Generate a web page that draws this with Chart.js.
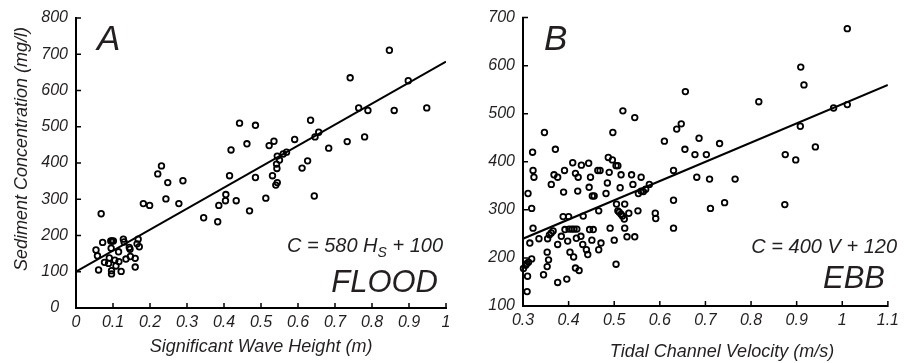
<!DOCTYPE html>
<html>
<head>
<meta charset="utf-8">
<title>Sediment concentration - flood / ebb</title>
<script src="https://cdn.jsdelivr.net/npm/chart.js@4.4.0/dist/chart.umd.min.js"></script>
<style>
  body { margin: 0; background: #fff; }
  #wrap { position: relative; width: 904px; height: 363px; }
  .panel { position: absolute; top: 0; height: 363px; }
</style>
</head>
<body>
<div id="wrap">
  <div class="panel" style="left:0;width:460px"><canvas id="floodChart"></canvas></div>
  <div class="panel" style="left:460px;width:444px"><canvas id="ebbChart"></canvas></div>
</div>
<script>
// Panel A - flood: significant wave height (m) vs sediment concentration (mg/l)
const floodH = [
  0.847, 0.741, 0.898, 0.764, 0.789, 0.860, 0.948, 0.442, 0.485, 0.634,
  0.462, 0.522, 0.535, 0.591, 0.646, 0.656, 0.780, 0.733, 0.683, 0.419,
  0.544, 0.550, 0.542, 0.543, 0.560, 0.569, 0.626, 0.611, 0.415, 0.485,
  0.531, 0.231, 0.221, 0.289, 0.248, 0.243, 0.278, 0.182, 0.199, 0.068,
  0.540, 0.544, 0.405, 0.404, 0.433, 0.386, 0.513, 0.644, 0.345, 0.383,
  0.469, 0.072, 0.054, 0.058, 0.061, 0.077, 0.088, 0.090, 0.094, 0.097,
  0.101, 0.095, 0.096, 0.096, 0.105, 0.108, 0.116, 0.115, 0.122, 0.128,
  0.130, 0.135, 0.144, 0.146, 0.147, 0.160, 0.160, 0.168, 0.165, 0.171
];
const floodC = [
  711, 635, 627, 552, 545, 545, 552, 510, 504, 518,
  453, 448, 460, 465, 472, 485, 472, 459, 441, 436,
  419, 408, 397, 385, 425, 430, 406, 386, 365, 360,
  365, 392, 370, 351, 346, 301, 288, 288, 283, 260,
  339, 346, 313, 296, 296, 283, 303, 309, 249, 238,
  268, 181, 160, 144, 105, 126, 123, 138, 185, 185,
  185, 165, 103, 94, 132, 116, 128, 155, 101, 190,
  182, 135, 167, 162, 142, 137, 113, 190, 177, 169
];
const floodFit = [580, 100]; // C = 580 Hs + 100

// Panel B - ebb: tidal channel velocity (m/s) vs sediment concentration (mg/l)
const ebbV = [
  1.011, 0.909, 0.916, 0.817, 0.981, 1.011, 0.908, 0.941, 0.875, 0.898,
  0.656, 0.647, 0.637, 0.610, 0.686, 0.655, 0.731, 0.677, 0.702, 0.519,
  0.545, 0.497, 0.347, 0.321, 0.371, 0.487, 0.496, 0.409, 0.428, 0.444,
  0.504, 0.508, 0.322, 0.391, 0.464, 0.469, 0.415, 0.489, 0.630, 0.324,
  0.368, 0.376, 0.421, 0.448, 0.515, 0.538, 0.559, 0.681, 0.709, 0.765,
  0.301, 0.306, 0.308, 0.312, 0.309, 0.310, 0.319, 0.315, 0.322, 0.319,
  0.311, 0.335, 0.345, 0.353, 0.353, 0.356, 0.354, 0.358, 0.362, 0.366,
  0.362, 0.376, 0.376, 0.384, 0.388, 0.389, 0.392, 0.398, 0.396, 0.400,
  0.401, 0.407, 0.412, 0.418, 0.403, 0.411, 0.415, 0.423, 0.417, 0.427,
  0.420, 0.432, 0.431, 0.439, 0.442, 0.445, 0.446, 0.454, 0.451, 0.452,
  0.456, 0.466, 0.466, 0.471, 0.482, 0.485, 0.491, 0.500, 0.504, 0.505,
  0.508, 0.511, 0.515, 0.518, 0.522, 0.513, 0.523, 0.523, 0.528, 0.545,
  0.532, 0.541, 0.552, 0.553, 0.559, 0.564, 0.569, 0.577, 0.590, 0.591,
  0.630, 0.630, 0.711, 0.742, 0.874
];
const ebbC = [
  677, 597, 560, 525, 512, 519, 474, 431, 415, 404,
  546, 479, 468, 443, 449, 426, 438, 415, 415, 506,
  492, 461, 461, 420, 426, 409, 404, 398, 393, 397,
  392, 392, 382, 382, 382, 382, 376, 378, 382, 368,
  373, 368, 368, 368, 373, 373, 368, 368, 364, 364,
  178, 185, 188, 191, 130, 162, 198, 231, 262, 303,
  334, 240, 165, 212, 182, 196, 240, 248, 252, 256,
  353, 149, 228, 245, 286, 337, 259, 235, 156, 286,
  260, 260, 260, 260, 212, 202, 179, 174, 241, 245,
  339, 287, 228, 217, 207, 347, 259, 259, 237, 329,
  329, 298, 217, 231, 334, 356, 262, 237, 187, 312,
  298, 295, 291, 287, 281, 346, 312, 262, 244, 244,
  293, 353, 298, 334, 339, 338, 343, 353, 293, 282,
  320, 262, 303, 315, 311
];
const ebbFit = [400, 120]; // C = 400 V + 120

const xTicksFlood = [0, 0.1, 0.2, 0.3, 0.4, 0.5, 0.6, 0.7, 0.8, 0.9, 1];
const xTicksEbb = [0.3, 0.4, 0.5, 0.6, 0.7, 0.8, 0.9, 1, 1.1];

const INK = '#231f20';
const FONT = '"Liberation Sans", Arial, sans-serif';

function toPoints(xs, ys) {
    return xs.map((x, i) => ({ x: x, y: ys[i] }));
}

function fitLine(fit, x0, x1) {
    return [{ x: x0, y: fit[0] * x0 + fit[1] }, { x: x1, y: fit[0] * x1 + fit[1] }];
}

function fmtTick(v) {
    return String(Number(v.toFixed(1)));
}

// short tick marks pointing into the plot area
const innerTicks = {
    id: 'innerTicks',
    afterDraw(chart) {
        const ctx = chart.ctx;
        const area = chart.chartArea;
        const xs = chart.scales.x, ys = chart.scales.y;
        ctx.save();
        ctx.strokeStyle = '#000';
        ctx.lineWidth = 1.5;
        ctx.beginPath();
        xs.ticks.forEach(t => {
            const px = xs.getPixelForValue(t.value);
            ctx.moveTo(px, area.bottom + 1);
            ctx.lineTo(px, area.bottom - 5);
        });
        ys.ticks.forEach(t => {
            const py = ys.getPixelForValue(t.value);
            ctx.moveTo(area.left - 1, py);
            ctx.lineTo(area.left + 5, py);
        });
        ctx.stroke();
        ctx.restore();
    }
};

// panel letter, equation, tide label and axis titles
const panelText = {
    id: 'panelText',
    afterDraw(chart, args, o) {
        const ctx = chart.ctx;
        ctx.save();
        ctx.fillStyle = INK;
        ctx.textBaseline = 'alphabetic';

        ctx.font = 'italic 35px ' + FONT;
        ctx.textAlign = 'left';
        ctx.fillText(o.letter, o.letterX, o.letterY);

        // equation with subscript, right aligned
        const big = 'italic 20px ' + FONT, small = 'italic 14px ' + FONT;
        ctx.font = big;
        const w1 = ctx.measureText(o.eq[0]).width;
        const w3 = ctx.measureText(o.eq[2]).width;
        ctx.font = small;
        const w2 = o.eq[1] ? ctx.measureText(o.eq[1]).width : 0;
        let x = o.eqRight - (w1 + w2 + w3);
        ctx.font = big;
        ctx.fillText(o.eq[0], x, o.eqY);
        x += w1;
        if (o.eq[1]) {
            ctx.font = small;
            ctx.fillText(o.eq[1], x, o.eqY + 5);
            x += w2;
        }
        ctx.font = big;
        ctx.fillText(o.eq[2], x, o.eqY);

        ctx.font = 'italic 31px ' + FONT;
        ctx.textAlign = 'right';
        ctx.fillText(o.tide, o.tideRight, o.tideY);

        ctx.font = 'italic 18px ' + FONT;
        ctx.textAlign = 'center';
        ctx.fillText(o.xTitle, o.xTitleX, o.xTitleY);

        if (o.yTitle) {
            ctx.translate(o.yTitleX, o.yTitleY);
            ctx.rotate(-Math.PI / 2);
            ctx.fillText(o.yTitle, 0, 0);
        }
        ctx.restore();
    }
};

function makeChart(id, pts, fit, xr, yr, xTickVals, layoutPad, yWidth, xHeight, text) {
    const axisFont = { family: FONT, size: 16, style: 'italic' };
    return new Chart(document.getElementById(id), {
        type: 'scatter',
        data: {
            datasets: [
                {
                    data: pts,
                    borderColor: '#000',
                    backgroundColor: 'rgba(255,255,255,0)',
                    borderWidth: 1.8,
                    pointRadius: 2.8,
                    clip: false
                },
                {
                    data: fitLine(fit, xr[0], xr[1]),
                    showLine: true,
                    borderColor: '#000',
                    borderWidth: 2,
                    pointRadius: 0
                }
            ]
        },
        options: {
            responsive: true,
            maintainAspectRatio: false,
            animation: false,
            layout: { padding: layoutPad },
            plugins: {
                legend: { display: false },
                tooltip: { enabled: false },
                panelText: text
            },
            scales: {
                x: {
                    type: 'linear',
                    min: xr[0],
                    max: xr[1],
                    afterBuildTicks: s => { s.ticks = xTickVals.map(v => ({ value: v })); },
                    afterFit: s => { s.height = xHeight; },
                    grid: { drawOnChartArea: false, drawTicks: false },
                    border: { display: true, color: '#000', width: 2 },
                    ticks: { color: INK, font: axisFont, padding: 5, maxRotation: 0, callback: v => fmtTick(v) }
                },
                y: {
                    type: 'linear',
                    min: yr[0],
                    max: yr[1],
                    ticks: { stepSize: 100, color: INK, font: axisFont, padding: 8, crossAlign: 'center' },
                    afterFit: s => { s.width = yWidth; },
                    grid: { drawOnChartArea: false, drawTicks: false },
                    border: { display: true, color: '#000', width: 2 }
                }
            }
        },
        plugins: [innerTicks, panelText]
    });
}

makeChart('floodChart', toPoints(floodH, floodC), floodFit, [0, 1], [0, 800], xTicksFlood,
    { top: 18, right: 14, left: 0, bottom: 0 }, 76, 55,
    {
        letter: 'A', letterX: 97, letterY: 50,
        eq: ['C = 580 H', 'S', ' + 100'], eqRight: 443, eqY: 252,
        tide: 'FLOOD', tideRight: 438, tideY: 292,
        xTitle: 'Significant Wave Height (m)', xTitleX: 261, xTitleY: 352,
        yTitle: 'Sediment Concentration (mg/l)', yTitleX: 27, yTitleY: 149
    });

makeChart('ebbChart', toPoints(ebbV, ebbC), ebbFit, [0.3, 1.1], [100, 700], xTicksEbb,
    { top: 15, right: 11, left: 0, bottom: 0 }, 63, 57,
    {
        letter: 'B', letterX: 84, letterY: 50,
        eq: ['C = 400 V + 120', '', ''], eqRight: 437, eqY: 253,
        tide: 'EBB', tideRight: 425, tideY: 288,
        xTitle: 'Tidal Channel Velocity (m/s)', xTitleX: 262, xTitleY: 357,
        yTitle: null
    });
</script>
</body>
</html>
